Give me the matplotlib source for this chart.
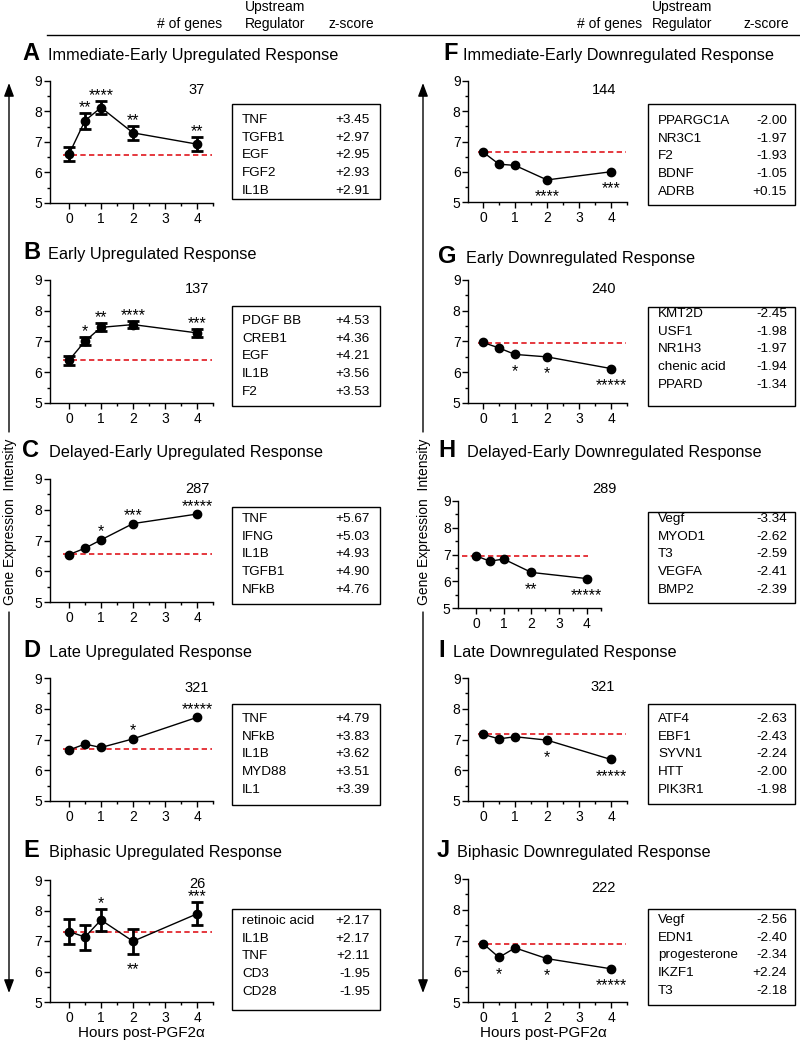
import matplotlib
matplotlib.use('Agg')
import matplotlib.pyplot as plt
from matplotlib.patches import Rectangle, FancyArrowPatch
from matplotlib.lines import Line2D
from matplotlib.ticker import FixedLocator

plt.rcParams['font.family'] = ['Liberation Sans', 'DejaVu Sans']
plt.rcParams['axes.linewidth'] = 1.0

# ---------------- data ----------------
hours = [0, 0.5, 1, 2, 4]
panel_letters = ['A', 'B', 'C', 'D', 'E', 'F', 'G', 'H', 'I', 'J']
panel_titles = ['Immediate-Early Upregulated Response',
                'Early Upregulated Response',
                'Delayed-Early Upregulated Response',
                'Late Upregulated Response',
                'Biphasic Upregulated Response',
                'Immediate-Early Downregulated Response',
                'Early Downregulated Response',
                'Delayed-Early Downregulated Response',
                'Late Downregulated Response',
                'Biphasic Downregulated Response']
gene_counts = [37, 137, 287, 321, 26, 144, 240, 289, 321, 222]
baseline_levels = [6.59, 6.40, 6.56, 6.69, 7.29, 6.65, 6.96, 6.95, 7.17, 6.89]

expr_A = [6.60, 7.70, 8.13, 7.30, 6.93]
expr_B = [6.39, 7.01, 7.46, 7.55, 7.28]
expr_C = [6.54, 6.75, 7.02, 7.55, 7.86]
expr_D = [6.66, 6.85, 6.74, 7.02, 7.72]
expr_E = [7.31, 7.13, 7.69, 6.99, 7.89]
expr_F = [6.65, 6.25, 6.21, 5.73, 6.00]
expr_G = [6.97, 6.79, 6.58, 6.50, 6.12]
expr_H = [6.95, 6.75, 6.83, 6.33, 6.10]
expr_I = [7.17, 7.02, 7.09, 6.98, 6.35]
expr_J = [6.90, 6.45, 6.76, 6.41, 6.08]

err_A = [0.23, 0.26, 0.21, 0.24, 0.22]
err_B = [0.14, 0.13, 0.13, 0.12, 0.12]
err_E = [0.41, 0.41, 0.37, 0.40, 0.38]

sig_A = ['', '**', '****', '**', '**']
sig_B = ['', '*', '**', '****', '***']
sig_C = ['', '', '*', '***', '*****']
sig_D = ['', '', '', '*', '*****']
sig_E = ['', '', '*', '**', '***']
sig_F = ['', '', '', '****', '***']
sig_G = ['', '', '*', '*', '*****']
sig_H = ['', '', '', '**', '*****']
sig_I = ['', '', '', '*', '*****']
sig_J = ['', '*', '', '*', '*****']
# 'u' = above the point, 'd' = below the point
sig_side_E = ['u', 'u', 'u', 'd', 'u']

reg_A = ['TNF', 'TGFB1', 'EGF', 'FGF2', 'IL1B']
z_A = [3.45, 2.97, 2.95, 2.93, 2.91]
reg_B = ['PDGF BB', 'CREB1', 'EGF', 'IL1B', 'F2']
z_B = [4.53, 4.36, 4.21, 3.56, 3.53]
reg_C = ['TNF', 'IFNG', 'IL1B', 'TGFB1', 'NFkB']
z_C = [5.67, 5.03, 4.93, 4.90, 4.76]
reg_D = ['TNF', 'NFkB', 'IL1B', 'MYD88', 'IL1']
z_D = [4.79, 3.83, 3.62, 3.51, 3.39]
reg_E = ['retinoic acid', 'IL1B', 'TNF', 'CD3', 'CD28']
z_E = [2.17, 2.17, 2.11, -1.95, -1.95]
reg_F = ['PPARGC1A', 'NR3C1', 'F2', 'BDNF', 'ADRB']
z_F = [-2.00, -1.97, -1.93, -1.05, 0.15]
reg_G = ['KMT2D', 'USF1', 'NR1H3', 'chenic acid', 'PPARD']
z_G = [-2.45, -1.98, -1.97, -1.94, -1.34]
reg_H = ['Vegf', 'MYOD1', 'T3', 'VEGFA', 'BMP2']
z_H = [-3.34, -2.62, -2.59, -2.41, -2.39]
reg_I = ['ATF4', 'EBF1', 'SYVN1', 'HTT', 'PIK3R1']
z_I = [-2.63, -2.43, -2.24, -2.00, -1.98]
reg_J = ['Vegf', 'EDN1', 'progesterone', 'IKZF1', 'T3']
z_J = [-2.56, -2.40, -2.34, 2.24, -2.18]

expr = dict(A=expr_A, B=expr_B, C=expr_C, D=expr_D, E=expr_E,
            F=expr_F, G=expr_G, H=expr_H, I=expr_I, J=expr_J)
errs = dict(A=err_A, B=err_B, E=err_E)
sigs = dict(A=sig_A, B=sig_B, C=sig_C, D=sig_D, E=sig_E,
            F=sig_F, G=sig_G, H=sig_H, I=sig_I, J=sig_J)
regs = dict(A=reg_A, B=reg_B, C=reg_C, D=reg_D, E=reg_E,
            F=reg_F, G=reg_G, H=reg_H, I=reg_I, J=reg_J)
zsc = dict(A=z_A, B=z_B, C=z_C, D=z_D, E=z_E,
           F=z_F, G=z_G, H=z_H, I=z_I, J=z_J)

# ---------------- layout (pixels) ----------------
W, H = 800, 1042
RED = '#e0161e'
COL = {
    0: dict(x0=69, ppu=32.0, xlim=(-0.6, 4.5), box=(232, 380), tx=242, vx=370,
            red=(-0.2, 4.47), side='u'),
    1: dict(x0=483, ppu=32.0, xlim=(-0.47, 4.5), box=(648, 795), tx=658, vx=787,
            red=(-0.15, 4.48), side='d'),
}
PANEL = {
    'A': dict(col=0, top=81, bot=203, base=60, lx=22, tx=48, box=(104, 199), row0=120, cnt=(4.0, 8.70)),
    'B': dict(col=0, top=280, bot=403, base=259, lx=23, tx=48, box=(306, 406), row0=321, cnt=(4.0, 8.70)),
    'C': dict(col=0, top=479, bot=602, base=457, lx=22, tx=49, box=(507, 604), row0=519, cnt=(4.0, 8.67)),
    'D': dict(col=0, top=678, bot=801, base=657, lx=23, tx=49, box=(704, 805), row0=719, cnt=(4.0, 8.67)),
    'E': dict(col=0, top=880, bot=1002, base=857, lx=23, tx=49, box=(909, 1010), row0=921, cnt=(4.0, 8.87)),
    'F': dict(col=1, top=81, bot=202, base=60, lx=443, tx=463, box=(104, 205), row0=121, cnt=(3.78, 8.70)),
    'G': dict(col=1, top=280, bot=403, base=263, lx=438, tx=466, box=(307, 406), row0=314, cnt=(3.78, 8.70)),
    'H': dict(col=1, top=501, bot=608, base=457, lx=438, tx=467, box=(512, 603), row0=519, cnt=(4.62, 9.45),
              x0=476, ppu=27.7, xlim=(-0.65, 4.5), red=(-0.5, 4.05)),
    'I': dict(col=1, top=678, bot=801, base=657, lx=438, tx=453, box=(704, 804), row0=719, cnt=(3.75, 8.70)),
    'J': dict(col=1, top=879, bot=1002, base=857, lx=437, tx=457, box=(909, 1005), row0=920, cnt=(3.75, 8.70)),
}
ROW_STEP = 17.7
STAR_FS = 11.5
TICK_FS = 10

fig = plt.figure(figsize=(W / 100, H / 100), dpi=100)


def fx(px):
    return px / W


def fy(py):
    return 1 - py / H


def put_star(ax, x, y_anchor, label, up, gap_px):
    c = 0.575 * STAR_FS / 72 * 100  # asterisk centre above baseline (px)
    off = (gap_px - c) if up else -(gap_px + c)
    ax.annotate(label, (x, y_anchor), xytext=(0, off * 0.72), textcoords='offset points',
                ha='center', va='baseline', fontsize=STAR_FS, annotation_clip=False)


for i, key in enumerate(panel_letters):
    P = PANEL[key]
    C = dict(COL[P['col']])
    for k in ('x0', 'ppu', 'xlim', 'red'):
        if k in P:
            C[k] = P[k]
    left = C['x0'] + C['xlim'][0] * C['ppu']
    width = (C['xlim'][1] - C['xlim'][0]) * C['ppu']
    ax = fig.add_axes([fx(left), fy(P['bot']), width / W, (P['bot'] - P['top']) / H])
    ax.set_xlim(*C['xlim'])
    ax.set_ylim(5, 9)
    for s in ('top', 'right'):
        ax.spines[s].set_visible(False)
    ax.xaxis.set_major_locator(FixedLocator([0, 1, 2, 3, 4]))
    ax.xaxis.set_minor_locator(FixedLocator([0.5, 1.5, 2.5, 3.5, 4.5]))
    ax.yaxis.set_major_locator(FixedLocator([5, 6, 7, 8, 9]))
    ax.yaxis.set_minor_locator(FixedLocator([5.5, 6.5, 7.5, 8.5]))
    ax.tick_params(which='major', direction='out', length=4.3, width=1, labelsize=TICK_FS)
    ax.tick_params(which='minor', direction='out', length=2.2, width=1)
    ax.tick_params(axis='y', pad=1)
    ax.tick_params(axis='x', pad=2.5)
    ax.patch.set_alpha(0)

    b = baseline_levels[i]
    ax.plot(list(C['red']), [b, b], color=RED, lw=1.2, dashes=(3.2, 2.0), zorder=1,
            clip_on=False)

    y = expr[key]
    e = errs.get(key)
    if e is not None:
        ax.errorbar(hours, y, yerr=e, fmt='-o', color='k', ms=6, lw=1.0,
                    elinewidth=2.0, capsize=4.5, capthick=2.0, zorder=3, clip_on=False)
    else:
        ax.plot(hours, y, '-o', color='k', ms=6, lw=1.0, zorder=3, clip_on=False)

    sides = sig_side_E if key == 'E' else [C['side']] * 5
    for j, lab in enumerate(sigs[key]):
        if not lab:
            continue
        up = sides[j] == 'u'
        if e is not None:
            anchor = y[j] + e[j] if up else y[j] - e[j]
            gap = 10.0 if up else 11.0
        else:
            anchor = y[j]
            gap = 12.5
        put_star(ax, hours[j], anchor, lab, up, gap)

    ax.text(P['cnt'][0], P['cnt'][1], str(gene_counts[i]), ha='center', va='center',
            fontsize=10.5, clip_on=False)

    # panel letter & title
    fig.text(fx(P['lx']), fy(P['base']), key, ha='left', va='baseline',
             fontsize=17, fontweight='bold')
    fig.text(fx(P['tx']), fy(P['base']), panel_titles[i], ha='left', va='baseline',
             fontsize=11.7)

    # regulator box
    bx0, bx1 = C['box']
    bt, bb = P['box']
    fig.add_artist(Rectangle((fx(bx0), fy(bb)), (bx1 - bx0) / W, (bb - bt) / H,
                             transform=fig.transFigure, fill=False, lw=1.0, ec='k'))
    for j, (name, z) in enumerate(zip(regs[key], zsc[key])):
        yy = P['row0'] + j * ROW_STEP
        fig.text(fx(C['tx']), fy(yy), name, ha='left', va='center', fontsize=9.7)
        fig.text(fx(C['vx']), fy(yy), f'{z:+.2f}', ha='right', va='center', fontsize=9.7)

# header
fig.text(fx(190), fy(24), '# of genes', ha='center', va='center', fontsize=10)
fig.text(fx(245), fy(7), 'Upstream', ha='left', va='center', fontsize=10)
fig.text(fx(245), fy(24), 'Regulator', ha='left', va='center', fontsize=10)
fig.text(fx(351), fy(24), 'z-score', ha='center', va='center', fontsize=10)
fig.text(fx(610), fy(24), '# of genes', ha='center', va='center', fontsize=10)
fig.text(fx(652), fy(7), 'Upstream', ha='left', va='center', fontsize=10)
fig.text(fx(652), fy(24), 'Regulator', ha='left', va='center', fontsize=10)
fig.text(fx(766), fy(24), 'z-score', ha='center', va='center', fontsize=10)
fig.add_artist(Line2D([fx(47), fx(800)], [fy(35), fy(35)], color='k', lw=1.0,
                      transform=fig.transFigure))

# side arrows and y labels
for axx in (9, 423):
    fig.add_artist(FancyArrowPatch((fx(axx), fy(432)), (fx(axx), fy(83)),
                                   transform=fig.transFigure, arrowstyle='-|>,head_length=0.8,head_width=0.3',
                                   mutation_scale=10, lw=1.0, color='k', shrinkA=0, shrinkB=0))
    fig.add_artist(FancyArrowPatch((fx(axx), fy(612)), (fx(axx), fy(993)),
                                   transform=fig.transFigure, arrowstyle='-|>,head_length=0.8,head_width=0.3',
                                   mutation_scale=10, lw=1.0, color='k', shrinkA=0, shrinkB=0))
    fig.text(fx(axx + 1), fy(522), 'Gene Expression  Intensity', rotation=90,
             ha='center', va='center', fontsize=10)

# x labels
fig.text(fx(141), fy(1033), 'Hours post-PGF2\u03b1', ha='center', va='center', fontsize=11)
fig.text(fx(543), fy(1033), 'Hours post-PGF2\u03b1', ha='center', va='center', fontsize=11)

fig.savefig('out.png', dpi=100)
